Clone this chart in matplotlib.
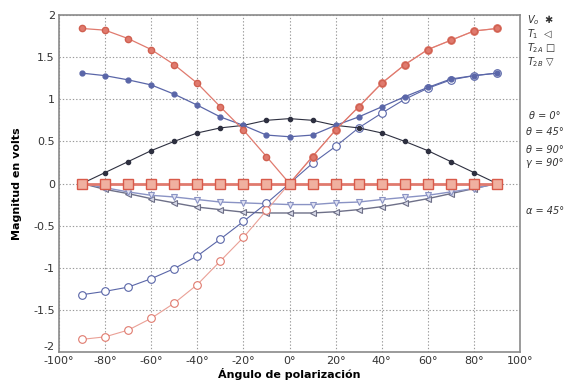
import matplotlib
matplotlib.use("Agg")
import matplotlib.pyplot as plt
import numpy as np

angles = [-90, -80, -70, -60, -50, -40, -30, -20, -10, 0, 10, 20, 30, 40, 50, 60, 70, 80, 90]

vo_abs = [1.84, 1.82, 1.72, 1.59, 1.41, 1.19, 0.91, 0.635, 0.32, 0.0,
          0.32, 0.635, 0.91, 1.19, 1.41, 1.59, 1.70, 1.81, 1.84]
vo_odd = [-1.85, -1.82, -1.74, -1.60, -1.42, -1.20, -0.92, -0.64, -0.32, 0.0,
          0.32, 0.635, 0.91, 1.19, 1.41, 1.59, 1.70, 1.81, 1.84]
t1_u = [1.31, 1.28, 1.23, 1.17, 1.06, 0.93, 0.79, 0.69, 0.575, 0.555,
        0.575, 0.69, 0.79, 0.91, 1.03, 1.14, 1.24, 1.28, 1.31]
t1_odd = [-1.32, -1.28, -1.23, -1.13, -1.01, -0.86, -0.66, -0.45, -0.235, 0.0,
          0.24, 0.44, 0.66, 0.835, 1.0, 1.13, 1.23, 1.28, 1.31]
bump = [0.0, 0.13, 0.26, 0.39, 0.50, 0.60, 0.66, 0.69, 0.75, 0.77,
        0.75, 0.69, 0.66, 0.60, 0.50, 0.39, 0.26, 0.13, 0.0]
t2a = [0.0] * 19
t2b_upper = [0.0, -0.05, -0.10, -0.14, -0.16, -0.19, -0.22, -0.23, -0.24, -0.25,
             -0.25, -0.23, -0.22, -0.19, -0.165, -0.14, -0.10, -0.06, 0.0]
t_lower = [0.0, -0.07, -0.12, -0.18, -0.23, -0.28, -0.31, -0.34, -0.35, -0.35,
           -0.35, -0.335, -0.31, -0.275, -0.23, -0.18, -0.12, -0.06, 0.0]

xticks = [-100, -80, -60, -40, -20, 0, 20, 40, 60, 80, 100]
xticklabels = ["-100°", "-80°", "-60°", "-40°", "-20°", "0°", "20°", "40°", "60°", "80°", "100°"]
yticks = [-2, -1.5, -1, -0.5, 0, 0.5, 1, 1.5, 2]
yticklabels = ["-2", "-1.5", "-1", "-0.5", "0", "0.5", "1", "1.5", "2"]

legend_lines = ["$V_o$  ✱", "$T_1$  ◁", "$T_{2A}$ □", "$T_{2B}$ ▽"]
param_lines = ["θ = 0°", "θ = 45°", "θ = 90°", "γ = 90°", "α = 45°"]

fig = plt.figure(figsize=(5.79, 3.87), dpi=100)
ax = fig.add_axes([59/579, 35/387, 461/579, 337/387])

red = "#e07a6e"
redl = "#eaa096"
blue = "#5a66a8"
bluel = "#8a93c4"
dark = "#2e3040"
gray = "#6e7088"

ax.plot(angles, t_lower, color=gray, lw=1.0, marker="<", ms=5, mfc="#d8dae8", mec=gray, mew=0.8, zorder=3)
ax.plot(angles, t2b_upper, color=bluel, lw=1.0, marker="v", ms=5, mfc="#e0e2f2", mec=bluel, mew=0.8, zorder=3)
ax.plot(angles, t1_odd, color=blue, lw=0.8, marker="o", ms=5.5, mfc="white", mec=blue, mew=0.8, zorder=3)
ax.plot(angles, vo_odd, color=redl, lw=0.8, marker="o", ms=5.5, mfc="white", mec=red, mew=0.8, zorder=3)
ax.plot(angles, bump, color=dark, lw=0.8, marker="o", ms=3, mfc=dark, mec=dark, zorder=4)
ax.plot(angles, t1_u, color=blue, lw=0.9, marker="o", ms=3.5, mfc=blue, mec=blue, zorder=4)
ax.plot(angles, vo_abs, color=red, lw=0.9, marker="o", ms=4.5, mfc=red, mec="#d06050", zorder=4)
ax.plot(angles, t2a, color=red, lw=2.0, marker="s", ms=7, mfc="#f0b0a0", mec="#d85a4a", mew=1.0, zorder=5)

ax.set_xlim(-100, 100)
ax.set_ylim(-2, 2)
ax.set_xticks(xticks)
ax.set_xticklabels(xticklabels)
ax.set_yticks(yticks)
ax.set_yticklabels(yticklabels)
ax.tick_params(labelsize=8, colors="#333333", length=0, pad=3)
ax.grid(True, color="#999999", linestyle=(0, (1.2, 1.8)), lw=0.8)
for s in ax.spines.values():
    s.set_color("#8a8a8a")
    s.set_linewidth(1.2)

# lift the bottom y label a little so it does not collide with "-100°"
ax.get_yticklabels()[0].set_va("bottom")

ax.set_ylabel("Magnitud en volts", fontsize=8, fontweight="bold", labelpad=8)
ax.set_xlabel("Ángulo de polarización", fontsize=8, fontweight="bold", labelpad=1)

ys = [20, 34, 48, 62]
for t, y in zip(legend_lines, ys):
    fig.text(527/579, 1 - y/387, t, fontsize=7, style="italic", color="#333333", va="center", ha="left",
             family=["DejaVu Sans"])
pys = [116, 132, 150, 163, 211]
for t, y in zip(param_lines, pys):
    fig.text(545/579, 1 - y/387, t, fontsize=7, style="italic", color="#333333", va="center", ha="center")

fig.savefig("out.png", dpi=100)
